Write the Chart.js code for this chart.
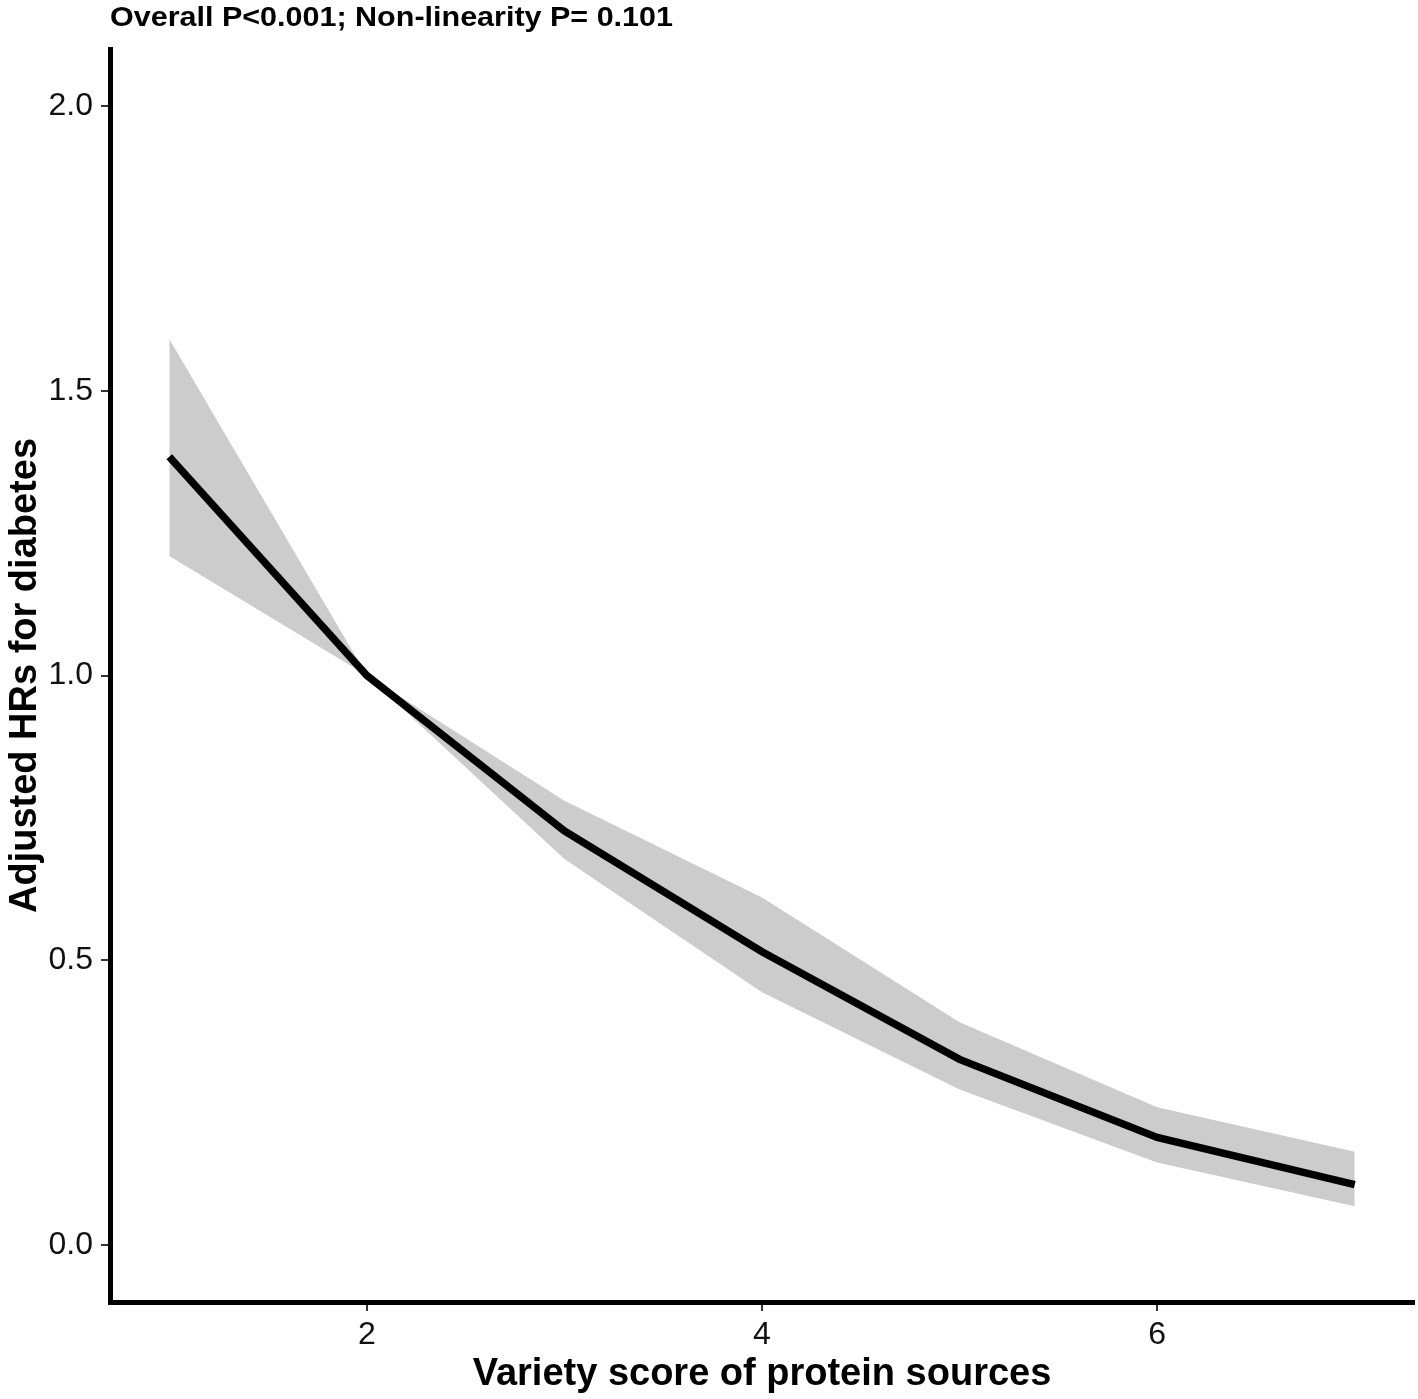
<!DOCTYPE html>
<html>
<head>
<meta charset="utf-8">
<script src="https://cdn.jsdelivr.net/npm/chart.js@4.4.0/dist/chart.umd.min.js"></script>
<style>
  html, body { margin: 0; padding: 0; background: #fff; }
</style>
</head>
<body>
<canvas id="chart" width="1418" height="1399"></canvas>
<script>
// values
const scoreX  = [1, 2, 3, 4, 5, 6, 7];
const hrFit   = [1.384, 1.0, 0.727, 0.515, 0.326, 0.189, 0.106];
const hrUpper = [1.591, 1.0, 0.780, 0.610, 0.391, 0.242, 0.164];
const hrLower = [1.210, 1.0, 0.678, 0.444, 0.273, 0.145, 0.068];
const yTicks  = [0, 0.5, 1.0, 1.5, 2.0];
const xTicks  = [2, 4, 6];
const titleText = 'Overall P<0.001; Non-linearity P= 0.101';

const FONT = '"Liberation Sans", Arial, Helvetica, sans-serif';

const pts = ys => scoreX.map((x, i) => ({ x: x, y: ys[i] }));

// title sits above the panel, starting at the y axis
const topTitle = {
  id: 'topTitle',
  afterDraw(chart) {
    const ctx = chart.ctx;
    ctx.save();
    ctx.font = 'bold 28px ' + FONT;
    const w = ctx.measureText(titleText).width;
    ctx.translate(chart.chartArea.left, 26);
    ctx.scale(563 / w, 1);
    ctx.fillStyle = '#000';
    ctx.textBaseline = 'alphabetic';
    ctx.fillText(titleText, 0, 0);
    ctx.restore();
  }
};

const tickGrid = {
  display: true,
  drawOnChartArea: false,
  drawTicks: true,
  tickLength: 9,
  color: '#333333',
  lineWidth: 2
};

new Chart(document.getElementById('chart').getContext('2d'), {
  type: 'line',
  data: {
    datasets: [
      {
        label: 'upper',
        data: pts(hrUpper),
        borderWidth: 0,
        borderColor: 'rgba(0,0,0,0)',
        backgroundColor: '#cccccc',
        pointRadius: 0,
        fill: '+1',
        order: 1
      },
      {
        label: 'lower',
        data: pts(hrLower),
        borderWidth: 0,
        borderColor: 'rgba(0,0,0,0)',
        backgroundColor: '#cccccc',
        pointRadius: 0,
        fill: false,
        order: 1
      },
      {
        label: 'HR',
        data: pts(hrFit),
        borderColor: '#000',
        borderWidth: 7.5,
        pointRadius: 0,
        fill: false,
        order: 0
      }
    ]
  },
  options: {
    responsive: false,
    devicePixelRatio: 1,
    animation: false,
    layout: { padding: { top: 49, right: 4, left: 0, bottom: 0 } },
    plugins: {
      legend: { display: false },
      tooltip: { enabled: false }
    },
    scales: {
      x: {
        type: 'linear',
        min: 0.7,
        max: 7.3,
        afterBuildTicks: axis => { axis.ticks = xTicks.map(v => ({ value: v })); },
        afterFit: axis => { axis.height = 97; },
        grid: tickGrid,
        border: { display: true, color: '#000', width: 5 },
        ticks: {
          color: '#111',
          padding: 5,
          maxRotation: 0,
          font: { family: FONT, size: 32 },
          callback: v => String(v)
        },
        title: {
          display: true,
          text: 'Variety score of protein sources',
          color: '#000',
          padding: { top: 0, bottom: 2 },
          font: { family: FONT, size: 38, weight: 'bold', lineHeight: 1.2 }
        }
      },
      y: {
        type: 'linear',
        min: -0.1,
        max: 2.1,
        afterBuildTicks: axis => { axis.ticks = yTicks.map(v => ({ value: v })); },
        afterFit: axis => { axis.width = 110; },
        grid: tickGrid,
        border: { display: true, color: '#000', width: 5 },
        ticks: {
          color: '#111',
          padding: 8,
          font: { family: FONT, size: 32 },
          callback: v => Number(v).toFixed(1)
        },
        title: {
          display: true,
          text: 'Adjusted HRs for diabetes',
          color: '#000',
          padding: { top: 3, bottom: 0 },
          font: { family: FONT, size: 38, weight: 'bold', lineHeight: 1.2 }
        }
      }
    }
  },
  plugins: [topTitle]
});
</script>
</body>
</html>
